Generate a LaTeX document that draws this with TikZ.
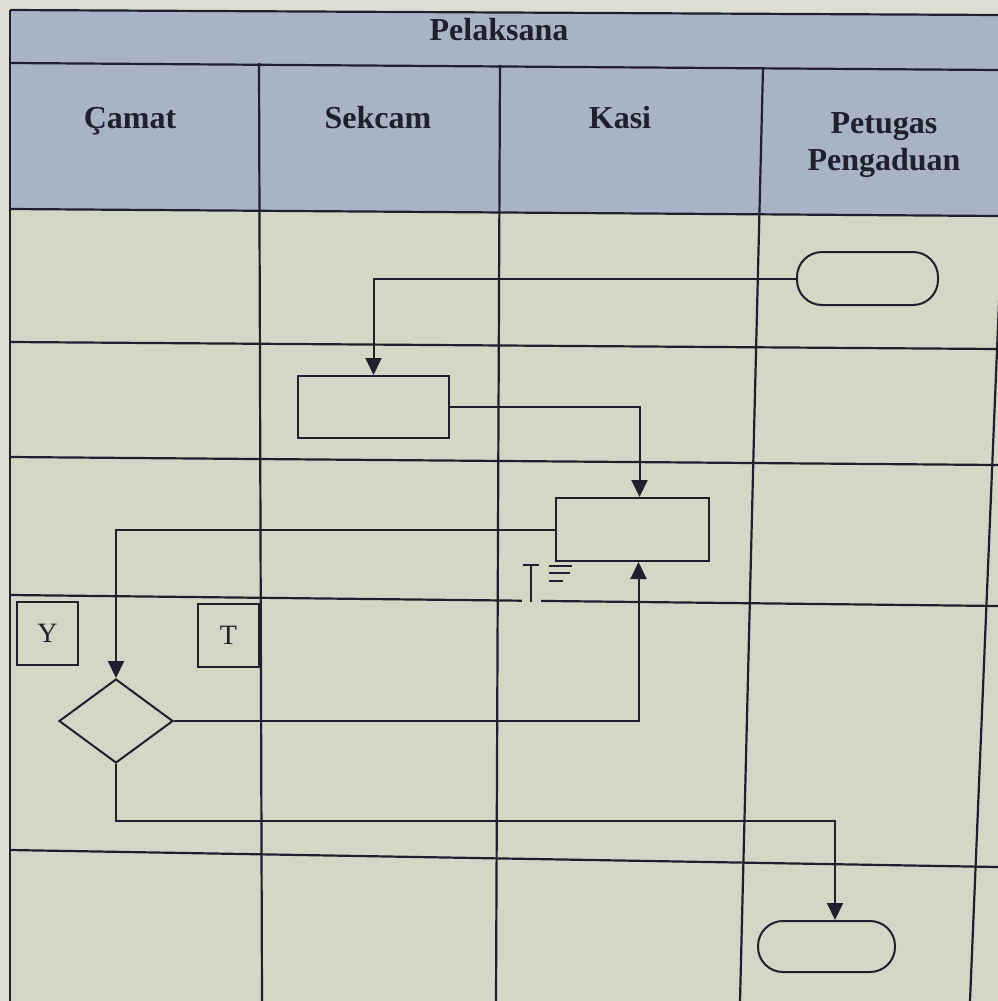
\documentclass[tikz,border=0pt]{standalone}
\usepackage{fontspec}
\setmainfont{Liberation Serif}
\usetikzlibrary{shapes.geometric,arrows.meta}
\definecolor{ink}{HTML}{1F1F2E}
\definecolor{hdr}{HTML}{A9B3C6}
\definecolor{bodyc}{HTML}{D3D7C5}
\definecolor{marg}{HTML}{DCDED4}
\begin{document}
\begin{tikzpicture}[x=1pt,y=-1pt,
  tbl/.style={draw=ink,line width=2.2pt},
  shp/.style={draw=ink,line width=2pt,inner sep=0pt},
  procbox/.style={shp,rectangle},
  term/.style={shp,rectangle,rounded corners=25pt},
  dec/.style={shp,diamond},
  lbl/.style={shp,rectangle,font=\fontsize{28}{30}\selectfont,text=ink},
  hd/.style={font=\bfseries\fontsize{32}{37}\selectfont,inner sep=0pt,text=ink},
  arr/.style={draw=ink,line width=2pt,-{Triangle[length=17pt,width=16pt]}},
  cur/.style={draw=ink,line width=1.6pt}]
\useasboundingbox (0,0) rectangle (998,1001);
\clip (0,0) rectangle (998,1001);
% backgrounds
\fill[marg] (0,0) rectangle (998,1001);
\fill[bodyc] (10,210) -- (998,216) -- (998,1001) -- (10,1001) -- cycle;
\fill[hdr] (10,10) -- (998,15) -- (998,216) -- (10,209) -- cycle;
% table lines
\draw[tbl] (10,10) -- (998,15);
\draw[tbl] (10,63) -- (998,70);
\draw[tbl] (10,209) -- (998,216);
\draw[tbl] (10,342) -- (998,349);
\draw[tbl] (10,457) -- (998,465);
\draw[tbl] (10,595) -- (998,606);
\draw[tbl] (10,850) -- (998,867);
\draw[tbl] (10,10) -- (10,1001);
\draw[tbl] (259,63) -- (262,1001);
\draw[tbl] (500,65) -- (496,1001);
\draw[tbl] (763,68) -- (740,1001);
\draw[tbl] (1002,230) -- (970,1001);
% headers
\node[hd,anchor=base] (hpel) at (499,40) {Pelaksana};
\node[hd,anchor=base] (hcam) at (130,128) {Çamat};
\node[hd,anchor=base] (hsek) at (378,128) {Sekcam};
\node[hd,anchor=base] (hkas) at (620,128) {Kasi};
\node[hd,anchor=base] (hpet) at (884,133) {Petugas};
\node[hd,anchor=base] (hpen) at (884,170) {Pengaduan};
% shapes
\node[term,minimum width=141pt,minimum height=53pt] (start) at (867.5,278.5) {};
\node[procbox,minimum width=151pt,minimum height=62pt] (sek) at (373.5,407) {};
\node[procbox,minimum width=153pt,minimum height=63pt] (kasi) at (632.5,529.5) {};
\node[dec,minimum width=114pt,minimum height=84pt] (dia) at (116,721) {};
\node[lbl,minimum width=61pt,minimum height=63pt] (ybox) at (47.5,633.5) {Y};
\node[lbl,minimum width=61pt,minimum height=63pt] (tbox) at (228.5,635.5) {T};
\node[term,minimum width=137pt,minimum height=51pt] (end) at (826.5,946.5) {};
\coordinate (turn) at (470,821);
% connectors
\draw[arr] (start.west) -| (sek.north);
\draw[arr] (sek.east) -| ([xshift=7pt]kasi.north);
\draw[arr] (kasi.west) -| (dia.north);
\draw[arr] (dia.east) -| ([xshift=6pt]kasi.south);
\draw[arr] (dia.south) |- (turn) -| ([xshift=8.5pt]end.north);
% text cursor artefact
\fill[bodyc] (522,595) rectangle (541,607);
\draw[cur] (523,565) -- (539,565);
\draw[cur] (531,565) -- (531,602);
\draw[cur] (549,566) -- (572,566);
\draw[cur] (549,573) -- (570,573);
\draw[cur] (549,581) -- (563,581);
\end{tikzpicture}
\end{document}
